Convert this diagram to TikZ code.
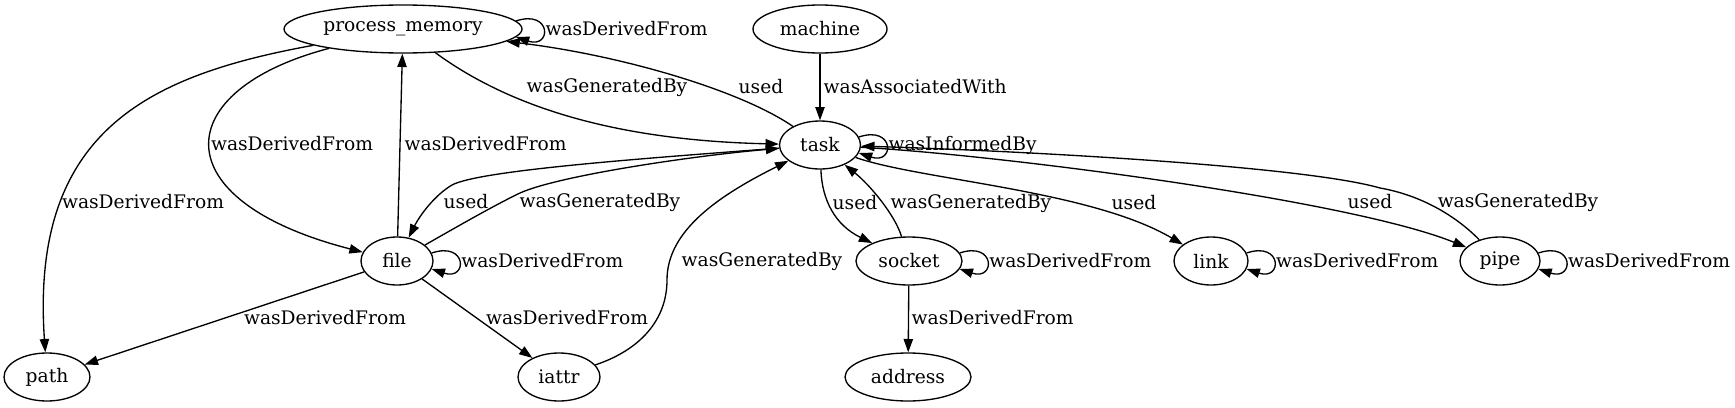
\documentclass[tikz,border=0pt]{standalone}
\usepackage{fontspec}
\setmainfont{DejaVu Serif}
\usetikzlibrary{arrows.meta,calc,shapes.geometric}
\newcommand{\selfloop}[3]{\draw[arr] ($(#1.east)+(-#2,-8)$) .. controls +(36,-12) and +(36,12) .. node[lbl,anchor=west,xshift=1.5pt] (#1loop) {#3} ($(#1.east)+(-#2,8)$);}
\begin{document}
\begin{tikzpicture}[x=0.75pt,y=-0.75pt,
  every node/.style={font=\fontsize{14pt}{16pt}\selectfont},
  ent/.style={draw,ellipse,line width=1pt,inner sep=0pt,minimum height=36pt},
  lbl/.style={inner sep=0pt},
  arr/.style={line width=1pt,-{Triangle[length=10pt,width=7pt]}}]
\fill[white] (0,0) rectangle (1735,407);
\useasboundingbox (0,0) rectangle (1735,407);

\node[ent,minimum width=178.5pt] (pm) at (403,29) {process\_memory};
\node[ent,minimum width=100.5pt] (machine) at (820,29) {machine};
\node[ent,minimum width=60.75pt] (task) at (820,145) {task};
\node[ent,minimum width=54pt] (file) at (397,261) {file};
\node[ent,minimum width=79.5pt] (socket) at (909,261) {socket};
\node[ent,minimum width=55.5pt] (link) at (1211,261) {link};
\node[ent,minimum width=60pt] (pipe) at (1500,261) {pipe};
\node[ent,minimum width=64.5pt] (path) at (47,377) {path};
\node[ent,minimum width=61.5pt] (iattr) at (559,377) {iattr};
\node[ent,minimum width=94.5pt] (address) at (908,377) {address};

% process_memory
\selfloop{pm}{6.8}{wasDerivedFrom}
\draw[arr] (pm) .. controls (150,75) and (30,130) .. (path)
  node[lbl] (l1) at (143,202) {wasDerivedFrom};
\draw[arr] (pm) .. controls (170,90) and (160,200) .. (file)
  node[lbl] (l2) at (292,144) {wasDerivedFrom};
\draw[arr] (file) -- (pm)
  node[lbl,anchor=west] (l3) at (404,144) {wasDerivedFrom};
\draw[arr] (pm) .. controls (500,100) and (600,140) .. (task)
  node[lbl] (l4) at (607,87) {wasGeneratedBy};
\draw[arr] (task) .. controls (740,90) and (620,55) .. (pm)
  node[lbl] (l5) at (761,87) {used};
\draw[arr] (machine) -- (task)
  node[lbl,anchor=west] (l6) at (823,87) {wasAssociatedWith};

% task
\selfloop{task}{2.3}{wasInformedBy}
\draw[arr] (task) .. controls (650,158) and (480,170) .. (452,185)
  .. controls (435,195) and (420,215) .. (file)
  node[lbl] (l8) at (466,202) {used};
\draw[arr] (file) .. controls (460,225) and (495,205) .. (520,193)
  .. controls (560,175) and (700,155) .. (task)
  node[lbl] (l9) at (600,202) {wasGeneratedBy};

% file
\selfloop{file}{2}{wasDerivedFrom}
\draw[arr] (file) -- (path) node[lbl] (l11) at (325,318) {wasDerivedFrom};
\draw[arr] (file) -- (iattr) node[lbl] (l12) at (567,318) {wasDerivedFrom};

% iattr
\draw[arr] (iattr) .. controls (640,350) and (667,320) .. (667,280)
  .. controls (667,230) and (720,195) .. (task)
  node[lbl] (l13) at (762,261) {wasGeneratedBy};

% socket
\draw[arr] (task) .. controls (822,200) and (835,225) .. (socket)
  node[lbl] (l14) at (855,203) {used};
\draw[arr] (socket) .. controls (895,215) and (870,185) .. (task)
  node[lbl] (l15) at (971,203) {wasGeneratedBy};
\selfloop{socket}{3}{wasDerivedFrom}
\draw[arr] (socket) -- (address)
  node[lbl,anchor=west] (l17) at (911,318) {wasDerivedFrom};

% link
\draw[arr] (task) .. controls (920,180) and (1090,190) .. (link)
  node[lbl] (l18) at (1134,203) {used};
\selfloop{link}{2.1}{wasDerivedFrom}

% pipe
\draw[arr] (task) .. controls (1000,155) and (1350,200) .. (pipe)
  node[lbl] (l20) at (1370,202) {used};
\draw[arr] (pipe) .. controls (1455,215) and (1420,195) .. (1380,188)
  .. controls (1300,165) and (1000,150) .. (task)
  node[lbl] (l21) at (1518,202) {wasGeneratedBy};
\selfloop{pipe}{2.3}{wasDerivedFrom}
\end{tikzpicture}
\end{document}
